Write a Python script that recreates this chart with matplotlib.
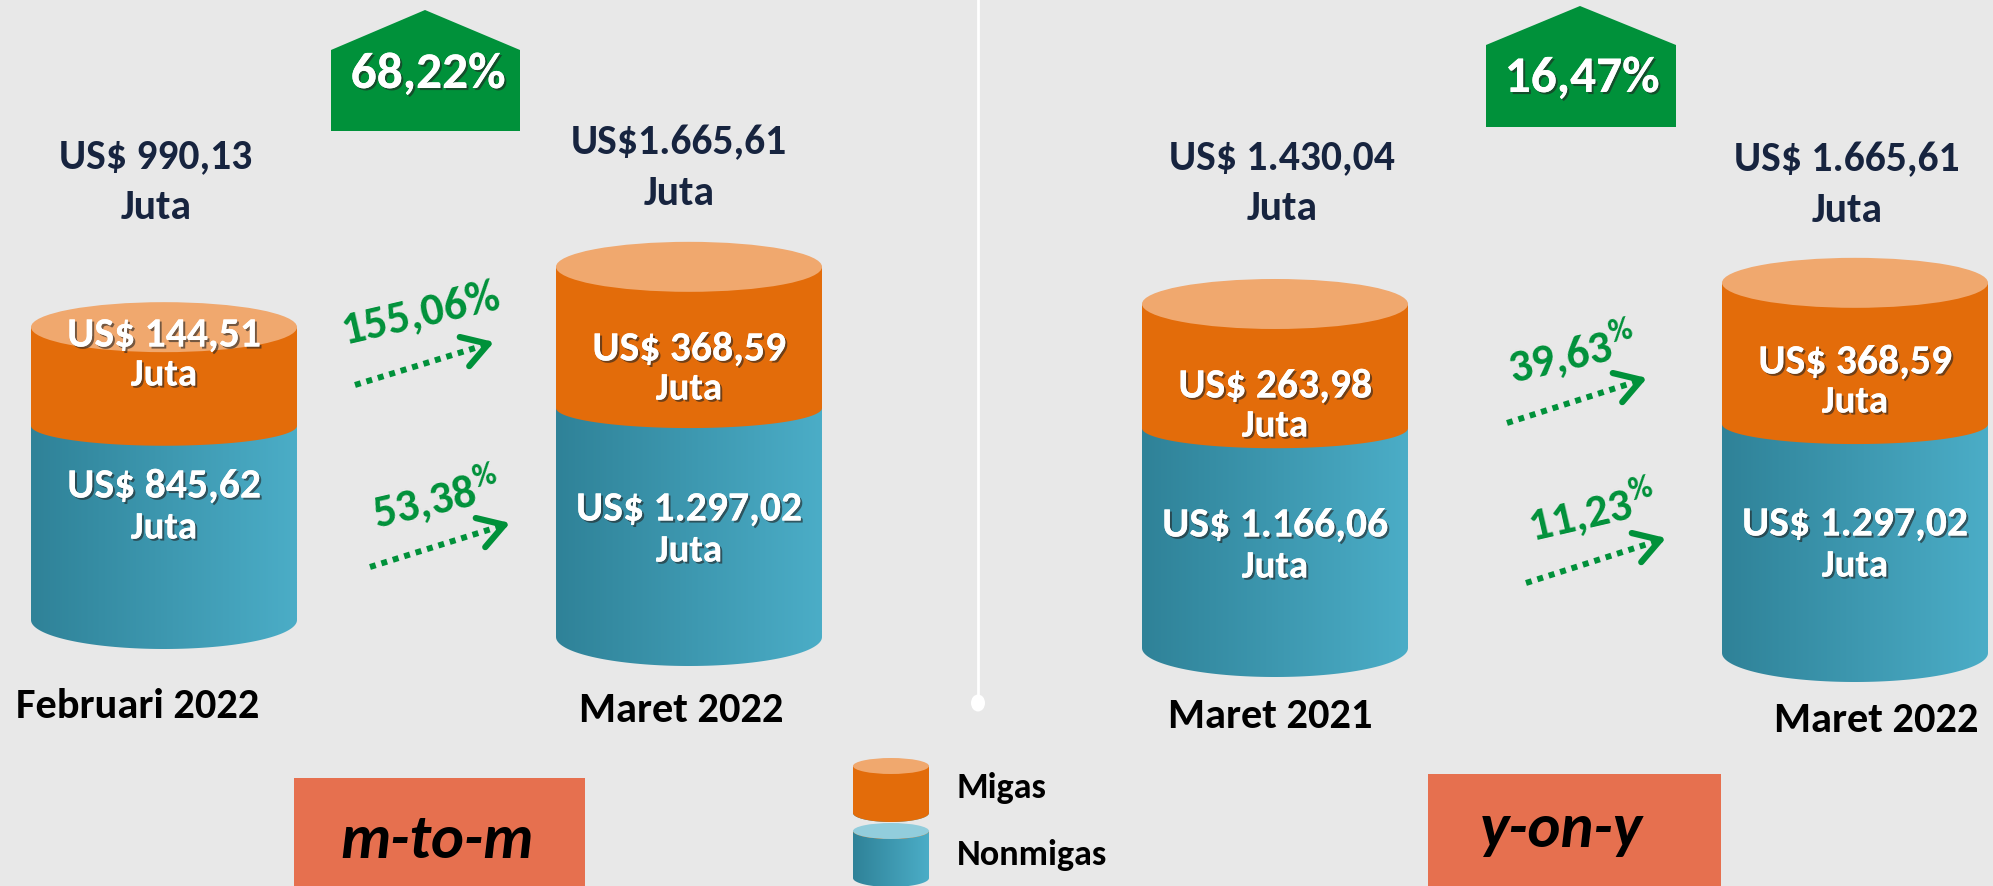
import matplotlib

matplotlib.use("Agg")
import matplotlib.pyplot as plt
import matplotlib.patheffects as pe
import numpy as np
from matplotlib import font_manager
from matplotlib.colors import LinearSegmentedColormap
from matplotlib.patches import Ellipse, Polygon, Rectangle

# --- data (nilai ekspor, US$ juta) ---
PERIODS = ["Februari 2022", "Maret 2022", "Maret 2021", "Maret 2022"]
MIGAS = [144.51, 368.59, 263.98, 368.59]
NONMIGAS = [845.62, 1297.02, 1166.06, 1297.02]
TOTAL = [990.13, 1665.61, 1430.04, 1665.61]
TOTAL_GROWTH = [68.22, 16.47]
MIGAS_GROWTH = [155.06, 39.63]
NONMIGAS_GROWTH = [53.38, 11.23]
COMPARISONS = ["m-to-m", "y-on-y"]
LEGEND = ["Migas", "Nonmigas"]

# --- layout (pixel space of the 1993x886 canvas) ---
W, H = 1993, 886
CX = [164, 689, 1275, 1855]
RX = 133
BOTTOM = [620, 637, 648, 653]
RY_TOP, RY_MID, RY_BOT = 25, 20, 29
TOTAL_PREFIX = ["US$ ", "US$", "US$ ", "US$ "]
TOTAL_XY = [(156, 157), (679, 143), (1282, 158), (1847, 160)]
ORANGE_LABEL_Y = [335, 349, 386, 362]
BLUE_LABEL_Y = [486, 509, 525, 524]
PERIOD_XY = [(138, 707), (681, 711), (1270, 717), (1876, 721)]
HOUSES = [(425, 331, 520, 10, 50, 131), (1580, 1486, 1676, 6, 45, 127)]
HOUSE_TEXT_XY = [(428, 74), (1582, 78)]
ARROWS_MIGAS = [((355, 385), (488, 344)), ((1507, 423), (1641, 380))]
ARROWS_NON = [((370, 567), (504, 525)), ((1526, 583), (1660, 540))]
PCT_MIGAS_XY = [(421, 313), (1572, 353)]
PCT_NON_XY = [(436, 498), (1592, 511)]
PCT_MIGAS_SMALL = [False, True]   # tanda % kecil seperti pada sumber
PCT_NON_SMALL = [True, True]
BOXES = [(294, 585, 778, 858, 437), (1428, 1721, 774, 847, 1561)]

BG = "#E8E8E8"
ORANGE = "#E36C0A"
ORANGE_TOP = "#F0A86E"
BLUE_DARK = "#2F8298"
BLUE_LIGHT = "#4BADC7"
GREEN = "#00913A"
NAVY = "#17243F"
SALMON = "#E6704F"

names = {f.name for f in font_manager.fontManager.ttflist}
FONT = next((f for f in ["Carlito", "Open Sans Condensed", "Roboto Condensed",
                         "Liberation Sans Narrow"] if f in names), "DejaVu Sans")
FS = {"Carlito": 1.0, "Open Sans Condensed": 0.92}.get(FONT, 0.75)
plt.rcParams["font.family"] = [FONT, "DejaVu Sans"]
plt.rcParams["mathtext.fontset"] = "custom"
plt.rcParams["mathtext.rm"] = f"{FONT}:bold"
plt.rcParams["mathtext.bf"] = f"{FONT}:bold"

blue_cmap = LinearSegmentedColormap.from_list("blu", [BLUE_DARK, BLUE_LIGHT])
SHADOW = [pe.withSimplePatchShadow(offset=(1.5, -1.5), shadow_rgbFace="#222222", alpha=0.6),
          pe.Normal()]


def fmt_id(v):
    s = f"{v:,.2f}"
    return s.replace(",", "X").replace(".", ",").replace("X", ".")


def pct(v, small=False):
    return fmt_id(v) + (r"$^{\%}$" if small else "%")


def seg_height(v):
    # skala visual infografis (tidak linear)
    return 14.6 * v ** 0.384


def half_ellipse(cx, cy, rx, ry, n=80):
    t = np.linspace(np.pi, 0, n)
    return np.column_stack([cx + rx * np.cos(t), cy + ry * np.sin(t)])


def body(ax, cx, rx, y0, y1, ry, face=None, cmap=None, z=2):
    pts = np.vstack([[cx - rx, y0], half_ellipse(cx, y1, rx, ry), [cx + rx, y0]])
    if cmap is None:
        ax.add_patch(Polygon(pts, closed=True, fc=face, ec="none", zorder=z))
    else:
        patch = Polygon(pts, closed=True, fc="none", ec="none", zorder=z)
        ax.add_patch(patch)
        grad = np.linspace(0, 1, 256).reshape(1, -1)
        im = ax.imshow(grad, cmap=cmap, extent=[cx - rx, cx + rx, y1 + ry, y0 - ry],
                       aspect="auto", zorder=z, interpolation="bilinear")
        im.set_clip_path(patch)


def cylinder(ax, cx, rx, y_top, y_mid, y_bot, ry_top, ry_mid, ry_bot, top_color=ORANGE_TOP):
    body(ax, cx, rx, y_mid, y_bot, ry_bot, cmap=blue_cmap, z=2)
    body(ax, cx, rx, y_top, y_mid, ry_mid, face=ORANGE, z=3)
    ax.add_patch(Ellipse((cx, y_top), 2 * rx, 2 * ry_top, fc=top_color, ec="none", zorder=4))


def arrow(ax, p0, p1):
    (x0, y0), (x1, y1) = p0, p1
    ax.plot([x0, x1], [y0, y1], color=GREEN, lw=4.3, ls=(0, (1, 1)),
            dash_capstyle="butt", zorder=5)
    ax.annotate("", xy=(x1 + 6, y1 - 2), xytext=(x1 - 2, y1 + 0.6),
                arrowprops=dict(arrowstyle="->,head_length=0.9,head_width=0.55", lw=4.5,
                                color=GREEN, mutation_scale=20, shrinkA=0, shrinkB=0),
                zorder=5)


def label(x, y, s, size, color, **kw):
    ax.text(x, y, s, ha=kw.pop("ha", "center"), va=kw.pop("va", "center"),
            fontsize=size * FS, fontweight="bold", color=color, zorder=6, **kw)


fig = plt.figure(figsize=(W / 100, H / 100), dpi=100, facecolor=BG)
ax = fig.add_axes([0, 0, 1, 1])
ax.set_facecolor(BG)
ax.axis("off")

# garis pemisah
ax.plot([978, 978], [0, 698], color="white", lw=2, zorder=1)
ax.add_patch(Ellipse((978, 703), 14, 17, fc="white", ec="none", zorder=1))

for i in range(4):
    cx = CX[i]
    y_mid = BOTTOM[i] - seg_height(NONMIGAS[i])
    y_top = y_mid - seg_height(MIGAS[i])
    cylinder(ax, cx, RX, y_top, y_mid, BOTTOM[i], RY_TOP, RY_MID, RY_BOT)

    tx, ty = TOTAL_XY[i]
    label(tx, ty, TOTAL_PREFIX[i] + fmt_id(TOTAL[i]), 30, NAVY)
    label(tx, ty + 50, "Juta", 30, NAVY)

    oy = ORANGE_LABEL_Y[i]
    label(cx, oy, "US$ " + fmt_id(MIGAS[i]), 30, "white", path_effects=SHADOW)
    label(cx, oy + 40, "Juta", 28, "white", path_effects=SHADOW)
    by = BLUE_LABEL_Y[i]
    label(cx, by, "US$ " + fmt_id(NONMIGAS[i]), 30, "white", path_effects=SHADOW)
    label(cx, by + 42, "Juta", 28, "white", path_effects=SHADOW)

    px, py = PERIOD_XY[i]
    label(px, py, PERIODS[i], 30.5, "black")

for k in range(2):
    peak_x, x0, x1, y_peak, y_sh, y_bot = HOUSES[k]
    ax.add_patch(Polygon([(x0, y_bot), (x0, y_sh), (peak_x, y_peak), (x1, y_sh), (x1, y_bot)],
                         closed=True, fc=GREEN, ec="none", zorder=3))
    label(*HOUSE_TEXT_XY[k], fmt_id(TOTAL_GROWTH[k]) + "%", 37, "white", path_effects=SHADOW)

    arrow(ax, *ARROWS_MIGAS[k])
    arrow(ax, *ARROWS_NON[k])
    label(*PCT_MIGAS_XY[k], pct(MIGAS_GROWTH[k], PCT_MIGAS_SMALL[k]), 33, GREEN,
          rotation=13, rotation_mode="anchor")
    label(*PCT_NON_XY[k], pct(NONMIGAS_GROWTH[k], PCT_NON_SMALL[k]), 33, GREEN,
          rotation=13, rotation_mode="anchor")

    bx0, bx1, by0, base, tx = BOXES[k]
    ax.add_patch(Rectangle((bx0, by0), bx1 - bx0, H - by0, fc=SALMON, ec="none", zorder=2))
    label(tx, base, COMPARISONS[k], 45, "black", va="baseline", fontstyle="italic")

# legenda
cylinder(ax, 891, 38, 766, 813, 813, 8, 9, 9)
cylinder(ax, 891, 38, 831, 831, 878, 8, 8, 9, top_color="#92CDDC")
label(957, 788, LEGEND[0], 26, "black", ha="left")
label(957, 855, LEGEND[1], 26, "black", ha="left")

ax.set_xlim(0, W)
ax.set_ylim(H, 0)
fig.savefig("out.png", dpi=100, facecolor=BG)
